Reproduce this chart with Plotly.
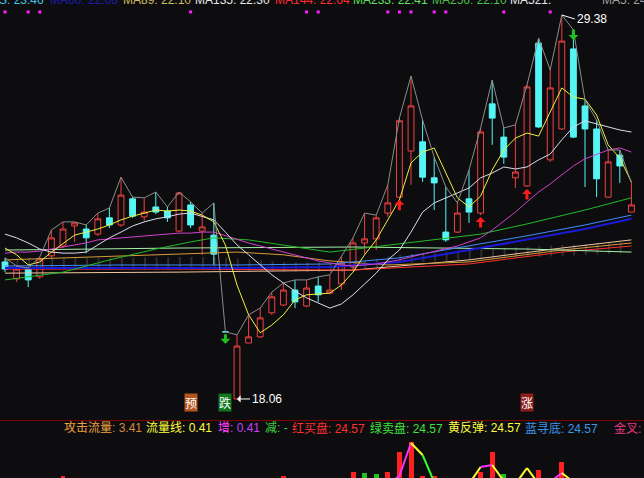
import plotly.graph_objects as go

# ---------------- data ----------------
opens  = [22.10,21.60,21.89,21.66,22.28,22.57,23.16,23.07,22.92,23.40,
          23.19,23.96,23.43,23.72,23.60,23.01,23.78,23.01,22.89,20.04,
          18.06,19.71,19.89,20.60,20.83,21.27,20.80,21.39,21.18,21.45,
          21.95,22.66,22.78,23.54,24.01,25.37,25.64,24.58,22.98,22.98,
          23.96,23.54,26.76,25.78,24.58,24.34,28.55,25.11,26.02,28.38,
          26.70,26.02,24.01,25.25,23.57]
highs  = [22.22,21.98,21.92,22.25,23.04,23.28,23.28,23.19,23.54,23.69,
          24.60,24.01,23.99,24.16,23.72,24.16,23.87,23.54,23.84,20.04,
          19.95,20.54,20.74,21.21,21.48,21.57,21.57,21.66,21.72,22.25,
          22.81,23.54,23.48,24.37,26.34,27.58,26.28,25.19,24.31,23.84,
          24.81,26.05,27.46,26.05,26.14,27.32,28.70,27.76,29.38,28.94,
          26.87,26.28,25.40,25.40,24.43]
lows   = [21.80,21.51,21.36,21.60,22.22,22.51,22.69,22.36,22.87,23.10,
          23.13,23.40,23.31,23.51,23.28,22.98,23.10,22.31,22.01,20.04,
          18.06,19.71,19.86,20.54,20.80,20.74,20.77,20.92,21.15,21.27,
          21.86,22.33,22.45,23.43,23.99,24.37,24.46,23.63,22.69,22.95,
          23.25,23.48,25.55,24.99,24.28,24.31,26.05,25.05,25.99,25.75,
          24.31,24.01,23.99,24.43,23.57]
closes = [21.89,21.89,21.57,22.19,22.81,23.07,23.25,22.81,23.37,23.19,
          24.07,23.45,23.57,23.57,23.40,24.13,23.19,23.13,22.33,20.04,
          19.62,19.89,20.45,21.07,21.27,20.92,21.33,21.13,21.27,22.07,
          22.66,22.78,23.40,23.84,26.26,26.70,24.60,24.43,22.75,23.54,
          23.57,25.93,26.34,25.19,24.75,27.26,26.08,27.23,28.61,25.78,
          26.02,24.55,25.05,24.93,23.78]

ma5  = [22.51,22.31,22.01,22.10,22.39,22.63,22.89,22.98,23.07,23.19,
        23.34,23.45,23.54,23.63,23.60,23.63,23.60,23.48,23.28,22.60,
        21.42,20.54,20.01,20.24,20.54,20.98,21.13,21.16,21.18,21.42,
        21.80,22.31,22.75,23.34,23.93,25.02,25.34,25.46,24.75,23.99,
        23.72,24.04,24.81,25.40,25.75,25.90,25.81,26.52,27.23,26.96,
        26.90,26.43,25.55,25.16,24.46]
ma10 = [22.92,22.81,22.66,22.48,22.39,22.36,22.36,22.39,22.60,22.81,
        22.98,23.16,23.28,23.37,23.43,23.51,23.54,23.45,23.34,22.98,
        22.60,22.31,22.01,21.72,21.48,21.24,21.04,20.89,20.74,20.86,
        21.13,21.45,21.77,22.16,22.45,22.98,23.57,23.84,23.99,24.13,
        24.28,24.58,24.72,24.90,24.84,24.90,25.11,25.28,25.70,26.08,
        26.26,26.17,26.08,25.99,25.93]
ma20 = [22.36,22.39,22.39,22.42,22.48,22.54,22.60,22.66,22.75,22.78,
        22.81,22.84,22.87,22.89,22.92,22.95,22.95,22.98,22.98,22.87,
        22.75,22.66,22.57,22.48,22.39,22.31,22.22,22.13,22.07,22.01,
        21.98,22.01,22.04,22.10,22.16,22.25,22.33,22.42,22.48,22.57,
        22.69,22.81,23.04,23.31,23.57,23.87,24.16,24.40,24.66,24.93,
        25.14,25.28,25.40,25.46,25.34]

# slower averages, read at selected bars
ma30_idx = [0,5,9,13,16,18,21,25,28,31,34,37,41,45,50,54]
ma30     = [21.57,21.80,22.16,22.48,22.69,22.81,22.75,22.54,22.39,22.51,22.63,22.75,22.92,23.22,23.63,23.99]
ma60_idx = [0,10,20,28,34,40,45,50,54]
ma60     = [21.98,22.01,22.01,22.04,22.22,22.57,22.87,23.19,23.48]
ma34_idx = [0,10,20,28,34,40,45,50,54]
ma34     = [21.92,21.92,21.92,21.95,22.10,22.45,22.75,23.07,23.37]
ma233_idx = [0,15,30,45,54]
ma233     = [22.45,22.51,22.54,22.48,22.39]
ma89_idx = [0,8,16,20,24,28,33,40,48,54]
ma89     = [22.16,22.25,22.36,22.39,22.31,22.13,22.01,22.10,22.45,22.66]
ma144_idx = [0,15,30,40,48,54]
ma144     = [21.89,21.89,21.86,22.04,22.39,22.57]
ma135_idx = [0,15,30,40,48,54]
ma135     = [21.77,21.80,21.86,22.16,22.51,22.75]

# dotted band (upper / lower edge)
band_idx   = [0,10,18,24,30,34,40,48,54]
band_upper = [22.22,22.22,22.25,22.10,22.07,22.31,22.45,22.60,22.69]
band_lower = [21.86,21.86,21.86,21.80,21.80,22.07,22.16,22.28,22.36]

signal_idx = [0,2,3,16,26,27,33,34,35,37,38,43,47]
signal_level = 29.47

buy_arrow_idx  = [34,41,45]
sell_arrow_idx = [19]
top_arrow_idx  = [49]

flag_labels = [(16,'预','#b4561e'),(19,'跌','#10761e'),(45,'涨','#8c1e1e')]

bar_idx  = [5,24,30,31,32,33,34,35,36,37,41,42,43,46,48]
bar_vals = [2,2,6,5,4,6,26,36,2,2,6,26,4,8,16]
bar_up   = [1,1,1,0,0,1,1,1,1,1,1,1,0,1,1]

flow_idx  = [33,34,35,36,37,40,41,42,43,44,45,46,47,48,49]
flow_vals = [-6,2,35,23,-4,-6,11,13,-3,-6,10,-6,-4,5,-4]
flow_seg_colors = {33:'#ff30ff',34:'#ff30ff',35:'#ffff30',36:'#30ff30',
                   40:'#ffff30',41:'#ff30ff',42:'#ffff30',
                   44:'#ffff30',45:'#ffff30',47:'#ff30ff',48:'#ffff30'}

top_legend = [("S: 23.46",'#40c8e8'),("MA60: 22.08",'#1c1cb4'),("MA89: 22.10",'#d0bc60'),
              ("MA135: 22.30",'#e8e8e8'),("MA144: 22.64",'#ff2a2a'),("MA233: 22.41",'#60e060'),
              ("MA256: 22.10",'#4cbc4c'),("MA521: ",'#e8e8e8'),("MA5: 24.46",'#a0a0a0')]
top_legend_x = [None,48,121,193,273,351,430,508,600]

bottom_legend = [
    ('攻击流量','#f0a040',': 3.41','#d88a3c'),
    ('流量线','#ffff40',': 0.41','#ffff40'),
    ('增','#ff40ff',': 0.41','#c040ff'),
    ('减','#40d040',': -','#40d040'),
    ('红买盘','#ff3030',': 24.57','#ff3030'),
    ('绿卖盘','#40e040',': 24.57','#40e040'),
    ('黄反弹','#ffff40',': 24.57','#ffff40'),
    ('蓝寻底','#3898e8',': 24.57','#3898e8'),
    ('金叉','#e83880',':','#e83880'),
]
bottom_legend_x = [62,144,216,263,290,368,446,523,612]

# ---------------- figure ----------------
W, H = 644, 478
BG = '#0d0d0f'
UP, DOWN = '#f04040', '#55f5f5'
FONT = 'Liberation Sans, Arial, Noto Sans CJK SC'
n = len(closes)
idx = list(range(n))
X0, X1 = -0.431, 55.086
step_px = W / (X1 - X0)

fig = go.Figure()

fig.add_trace(go.Candlestick(
    x=idx, open=opens, high=highs, low=lows, close=closes,
    increasing=dict(line=dict(color=UP, width=1), fillcolor='rgba(0,0,0,0)'),
    decreasing=dict(line=dict(color=DOWN, width=1), fillcolor=DOWN),
    whiskerwidth=0, showlegend=False, hoverinfo='skip'))

def line(x, y, color, width=1):
    fig.add_trace(go.Scatter(x=x, y=y, mode='lines', line=dict(color=color, width=width),
                             showlegend=False, hoverinfo='skip'))

# dotted vertical band
fig.add_trace(go.Scatter(x=band_idx, y=band_lower, mode='lines', line=dict(width=0),
                         showlegend=False, hoverinfo='skip'))
fig.add_trace(go.Scatter(x=band_idx, y=band_upper, mode='lines', line=dict(width=0),
                         fill='tonexty', fillcolor='rgba(0,0,0,0)',
                         fillpattern=dict(shape='|', fgcolor='rgba(235,235,235,0.55)',
                                          bgcolor='rgba(0,0,0,0)', size=step_px, solidity=0.09),
                         showlegend=False, hoverinfo='skip'))

line(ma135_idx, ma135, '#f0c8a0')
line(ma144_idx, ma144, '#ff3030')
line(ma89_idx, ma89, '#d89a3a')
line(ma233_idx, ma233, '#a8f0a8')
line(ma34_idx, ma34, '#1a1ad8', 2)
line(ma60_idx, ma60, '#3c8cff')
line(ma30_idx, ma30, '#22bb22')
line(idx, ma20, '#d040d0')
line(idx, ma10, '#dcdcf0')
line(idx, ma5, '#f0f040')
line(idx, highs, '#8c8c8c')

fig.add_trace(go.Scatter(x=signal_idx, y=[signal_level]*len(signal_idx), mode='markers',
                         marker=dict(symbol='square', size=3, color='#ff20ff'),
                         showlegend=False, hoverinfo='skip'))

# indicator panel
fig.add_trace(go.Bar(x=bar_idx, y=bar_vals, width=0.43, yaxis='y2',
                     marker=dict(color=['#ff2020' if u else '#20c020' for u in bar_up], line=dict(width=0)),
                     showlegend=False, hoverinfo='skip'))
fmap = dict(zip(flow_idx, flow_vals))
for i, col in flow_seg_colors.items():
    fig.add_trace(go.Scatter(x=[i, i+1], y=[fmap[i], fmap[i+1]], yaxis='y2', mode='lines',
                             line=dict(color=col, width=2), showlegend=False, hoverinfo='skip'))

ann = []
# arrows
for i in buy_arrow_idx:
    ann.append(dict(x=i, y=lows[i], ax=0, ay=14, showarrow=True, arrowhead=1, arrowsize=0.55,
                    arrowwidth=3, arrowcolor='#ff1a1a', standoff=2, text=''))
for i in sell_arrow_idx:
    ann.append(dict(x=i, y=lows[i], ax=0, ay=-11, yshift=-12, showarrow=True, arrowhead=1,
                    arrowsize=0.55, arrowwidth=3, arrowcolor='#20c020', text=''))
for i in top_arrow_idx:
    ann.append(dict(x=i, y=highs[i], ax=0, ay=-12, yshift=-10, showarrow=True, arrowhead=1,
                    arrowsize=0.55, arrowwidth=3, arrowcolor='#20c020', text=''))
# extreme labels
hi_i = highs.index(max(highs)); lo_i = lows.index(min(lows))
ann.append(dict(x=hi_i, y=highs[hi_i], ax=13, ay=4, showarrow=True, arrowhead=0, arrowwidth=1,
                arrowcolor='#ffffff', text=f'{highs[hi_i]:.2f}', xanchor='left',
                font=dict(family=FONT, size=12, color='#ffffff')))
ann.append(dict(x=lo_i, y=lows[lo_i], ax=13, ay=0, showarrow=True, arrowhead=1, arrowsize=1.2,
                arrowwidth=1, arrowcolor='#ffffff', text=f'{lows[lo_i]:.2f}', xanchor='left',
                font=dict(family=FONT, size=12, color='#ffffff')))
# flag labels
for i, t, c in flag_labels:
    ann.append(dict(x=i, y=1-412/H, yref='paper', text=t, showarrow=False, bgcolor=c,
                    borderpad=0, font=dict(family='Noto Sans CJK SC', size=12, color='#ffffff')))
# top legend (cut by the top edge)
for (t, c), xp in zip(top_legend, top_legend_x):
    if xp is None:
        ann.append(dict(x=46/W, xref='paper', xanchor='right', y=1, yref='paper', yanchor='bottom',
                        yshift=-9, text=t, showarrow=False, font=dict(family=FONT, size=12, color=c)))
    else:
        ann.append(dict(x=xp/W, xref='paper', xanchor='left', y=1, yref='paper', yanchor='bottom',
                        yshift=-9, text=t, showarrow=False, font=dict(family=FONT, size=12, color=c)))
# bottom legend
for (lab, lc, val, vc), xp in zip(bottom_legend, bottom_legend_x):
    txt = f'<span style="color:{lc}">{lab}</span><span style="color:{vc}">{val}</span>'
    ann.append(dict(x=xp/W, xref='paper', xanchor='left', y=1-428/H, yref='paper', yanchor='middle',
                    text=txt, showarrow=False, font=dict(family='Liberation Sans, Noto Sans CJK SC', size=12)))

fig.update_layout(
    width=W, height=H, margin=dict(l=0, r=0, t=0, b=0),
    paper_bgcolor=BG, plot_bgcolor=BG, showlegend=False, boxgap=0.28, bargap=0,
    xaxis=dict(range=[X0, X1], visible=False, rangeslider=dict(visible=False), fixedrange=True),
    yaxis=dict(range=[17.44, 29.822], domain=[1-420/H, 1], visible=False),
    yaxis2=dict(range=[0, 43], domain=[0, 43/H], visible=False, anchor='x'),
    annotations=ann,
    shapes=[dict(type='line', xref='paper', yref='paper', x0=0, x1=1, y0=1-420.5/H, y1=1-420.5/H,
                 line=dict(color='#800000', width=1))],
)

fig.write_html('out.html', config=dict(displayModeBar=False),
               post_script="document.body.style.margin='0';document.body.style.overflow='hidden';document.body.style.background='#0d0d0f';")
